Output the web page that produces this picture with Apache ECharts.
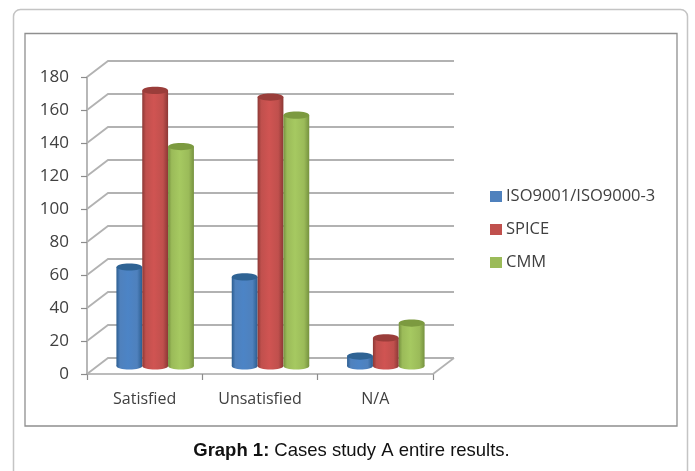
<!DOCTYPE html>
<html><head><meta charset="utf-8">
<style>html,body{margin:0;padding:0;background:#fff}#c{width:695px;height:471px}</style>
<script src="https://cdn.jsdelivr.net/npm/echarts@6/dist/echarts.min.js"></script>
</head><body><div id="c"></div>
<script>
const categories = ['Satisfied', 'Unsatisfied', 'N/A'];
const seriesNames = ['ISO9001/ISO9000-3', 'SPICE', 'CMM'];
const iso = [60, 54, 6];
const spice = [167, 163, 17];
const cmm = [133, 152, 26];
const yTicks = [0, 20, 40, 60, 80, 100, 120, 140, 160, 180];

const colors = ['#4f81bd', '#c0504d', '#9bbb59'];
const edge = ['#2c5d90', '#8c3835', '#76923f'];
const lite = ['#4c84c6', '#d05452', '#a6c961'];
const topCol = ['#2f6394', '#9a3d3a', '#7c9a40'];
const depthX = 21, depthY = 16, gridCol = '#b2b2b2';

const chart = echarts.init(document.getElementById('c'), null, {renderer: 'canvas'});

function wallItem(params, api) {
  const v = api.value(0);
  const a = api.coord([0, v]);
  const left = params.coordSys.x, right = left + params.coordSys.width;
  const y = a[1];
  const st = {stroke: gridCol, lineWidth: 1.8, fill: null};
  const kids = [
    {type: 'polyline', shape: {points: [[left, y], [left + depthX, y - depthY], [right + depthX, y - depthY]]}, style: st}
  ];
  if (v === 0) kids.push({type: 'line', shape: {x1: right, y1: y, x2: right + depthX, y2: y - depthY}, style: st});
  return {type: 'group', children: kids};
}

function barItem(si) {
  return function (params, api) {
    const c = api.coord([api.value(0), api.value(1)]);
    const zero = api.coord([api.value(0), 0]);
    const band = api.size([1, 0])[0];
    const w = band * 0.224;
    const cx = c[0] + depthX / 2 + (si - 1) * w;
    const top = c[1] - depthY / 2, base = zero[1] - depthY / 2;
    const ry = 3.6, rx = w / 2;
    const grad = new echarts.graphic.LinearGradient(0, 0, 1, 0, [
      {offset: 0, color: edge[si]}, {offset: 0.14, color: colors[si]},
      {offset: 0.45, color: lite[si]}, {offset: 0.8, color: colors[si]},
      {offset: 1, color: edge[si]}
    ]);
    return {type: 'group', children: [
      {type: 'ellipse', shape: {cx: cx, cy: base, rx: rx, ry: ry}, style: {fill: grad}},
      {type: 'rect', shape: {x: cx - rx, y: top, width: w, height: base - top}, style: {fill: grad}},
      {type: 'ellipse', shape: {cx: cx, cy: top, rx: rx, ry: ry}, style: {fill: topCol[si]}}
    ]};
  };
}

const barSeries = [iso, spice, cmm].map((vals, si) => ({
  name: seriesNames[si],
  type: 'custom',
  coordinateSystem: 'cartesian2d',
  renderItem: barItem(si),
  itemStyle: {color: colors[si]},
  encode: {x: 0, y: 1},
  data: vals.map((v, i) => [i, v]),
  z: 3 + si
}));

chart.setOption({
  animation: false,
  backgroundColor: '#fff',
  grid: {left: 87, top: 77, width: 346, height: 297, containLabel: false},
  title: {
    text: '{b|Graph 1:} {n|Cases study A entire results.}',
    left: 346.5, top: 436, textAlign: 'center',
    textStyle: {fontWeight: 'normal', rich: {
      b: {fontFamily: 'Liberation Sans', fontSize: 18.5, fontWeight: 'bold', color: '#111'},
      n: {fontFamily: 'Liberation Sans', fontSize: 18.5, fontWeight: 'normal', color: '#111'}
    }}
  },
  legend: {
    orient: 'vertical', left: 490, top: 188, padding: 0, itemWidth: 12, itemHeight: 11, itemGap: 16,
    icon: 'rect', data: seriesNames, selectedMode: false,
    textStyle: {fontFamily: 'Open Sans', fontSize: 16.5, color: '#404040', padding: [0, 0, 0, -1]}
  },
  xAxis: {
    type: 'category', data: categories, boundaryGap: true,
    axisLine: {lineStyle: {color: '#a6a6a6', width: 1.6}},
    axisTick: {show: true, alignWithLabel: false, length: 6, lineStyle: {color: '#8c8c8c', width: 1.2}},
    axisLabel: {fontFamily: 'Open Sans', fontSize: 16, color: '#404040', margin: 17},
    splitLine: {show: false}
  },
  yAxis: {
    type: 'value', min: 0, max: 180, interval: 20,
    axisLine: {show: true, lineStyle: {color: '#a6a6a6', width: 1.6}},
    axisTick: {show: true, length: 6, lineStyle: {color: '#8c8c8c', width: 1.2}},
    axisLabel: {fontFamily: 'Open Sans', fontSize: 17, color: '#404040', margin: 18},
    splitLine: {show: false}
  },
  graphic: [
    {type: 'rect', shape: {x: 13.5, y: 9.5, width: 674, height: 480, r: 7}, style: {fill: 'none', stroke: '#c4c4c4', lineWidth: 1.5}, silent: true, z: -1},
    {type: 'rect', shape: {x: 25, y: 33.5, width: 652, height: 392.5}, style: {fill: 'none', stroke: '#8f8f8f', lineWidth: 1.3}, silent: true, z: -1}
  ],
  series: [{
    name: 'walls', type: 'custom', coordinateSystem: 'cartesian2d',
    renderItem: wallItem, encode: {y: 0}, silent: true, z: 1,
    data: yTicks.map(v => [v])
  }].concat(barSeries)
});
</script></body></html>
